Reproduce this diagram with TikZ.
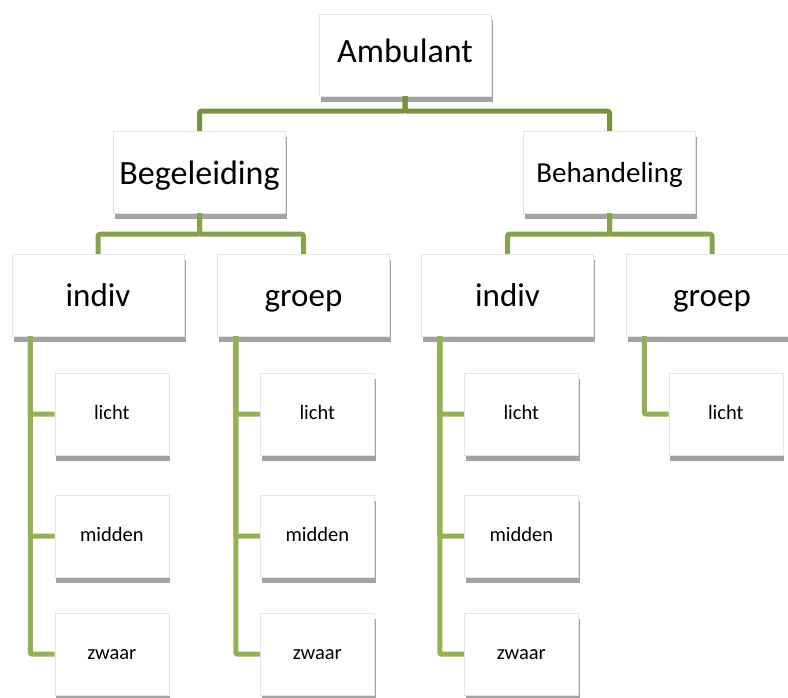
\documentclass[tikz,border=0pt]{standalone}
\usepackage{fontspec}
\setmainfont{Carlito}
\usepackage{xcolor}
\definecolor{darkolive}{RGB}{119,147,60}
\definecolor{midolive}{RGB}{133,163,72}
\definecolor{lightolive}{RGB}{146,178,82}
\usepackage{tikz}
\usetikzlibrary{shadows}
\newcommand{\widthbig}{172pt}
\newcommand{\widthsmall}{114pt}
\newcommand{\heightbox}{82pt}
\tikzset{
    common/.style={draw=black!10, fill=white, rectangle, inner sep=0pt, minimum height=\heightbox,
        drop shadow={shadow xshift=1.5pt, shadow yshift=-5.5pt, fill=black!36, opacity=1}},
    bigbox/.style={common, minimum width=\widthbig, font=\fontsize{33}{40}\selectfont,
        text height=23pt, text depth=0pt},
    smallbox/.style={common, minimum width=\widthsmall, font=\fontsize{20.5}{25}\selectfont,
        text height=14pt, text depth=4pt},
    link-top/.style={line width=5pt, darkolive, rounded corners=2pt},
    link-mid/.style={line width=5pt, midolive, rounded corners=2pt},
    link-leaf/.style={line width=5pt, lightolive, rounded corners=2pt}
}

\begin{document}
\begin{tikzpicture}[x=1pt, y=-1pt]
      \useasboundingbox (0,0) rectangle (788,697);

      \path
          node[bigbox, font=\fontsize{34}{40}\selectfont, text depth=9pt] (ambulant) at (405,55) {Ambulant}
          node[bigbox, font=\fontsize{34}{40}\selectfont, text height=25pt] (begeleiding) at (199.5,172) {Begeleiding}
          node[bigbox, font=\fontsize{29}{35}\selectfont, text height=21pt] (behandeling) at (609.5,172) {Behandeling};

      \path
          node[bigbox] (beg-indiv) at (98,295) {indiv}
          node[bigbox] (beg-groep) at (303.5,295) {groep}
          node[bigbox] (beh-indiv) at (507.5,295) {indiv}
          node[bigbox] (beh-groep) at (712,295) {groep};

      \path
          (beg-indiv.south west)
          +(100,78) node[smallbox] (beg-indiv-licht) {licht}
          +(100,200) node[smallbox] (beg-indiv-midden) {midden}
          +(100,318) node[smallbox] (beg-indiv-zwaar) {zwaar};

      \path
          (beg-groep.south west)
          +(100,78) node[smallbox] (beg-groep-licht) {licht}
          +(100,200) node[smallbox] (beg-groep-midden) {midden}
          +(100,318) node[smallbox] (beg-groep-zwaar) {zwaar};

      \path
          (beh-indiv.south west)
          +(100,78) node[smallbox] (beh-indiv-licht) {licht}
          +(100,200) node[smallbox] (beh-indiv-midden) {midden}
          +(100,318) node[smallbox] (beh-indiv-zwaar) {zwaar};

      \path
          (beh-groep.south west)
          +(100,78) node[smallbox] (beh-groep-licht) {licht};

      \draw[link-top] (ambulant.south) -- ++(0,15) -| (begeleiding.north);
      \draw[link-top] (ambulant.south) -- ++(0,15) -| (behandeling.north);

      \draw[link-mid] (begeleiding.south) -- ++(0,21) -| (beg-indiv.north);
      \draw[link-mid] (begeleiding.south) -- ++(0,21) -| (beg-groep.north);
      \draw[link-mid] (behandeling.south) -- ++(0,21) -| (beh-indiv.north);
      \draw[link-mid] (behandeling.south) -- ++(0,21) -| (beh-groep.north);

      \draw[link-leaf] ([xshift=18.5pt]beg-indiv.south west) |- (beg-indiv-licht.west);
      \draw[link-leaf] ([xshift=18.5pt]beg-indiv.south west) |- (beg-indiv-midden.west);
      \draw[link-leaf] ([xshift=18.5pt]beg-indiv.south west) |- (beg-indiv-zwaar.west);
      \draw[link-leaf] ([xshift=18.5pt]beg-groep.south west) |- (beg-groep-licht.west);
      \draw[link-leaf] ([xshift=18.5pt]beg-groep.south west) |- (beg-groep-midden.west);
      \draw[link-leaf] ([xshift=18.5pt]beg-groep.south west) |- (beg-groep-zwaar.west);
      \draw[link-leaf] ([xshift=18.5pt]beh-indiv.south west) |- (beh-indiv-licht.west);
      \draw[link-leaf] ([xshift=18.5pt]beh-indiv.south west) |- (beh-indiv-midden.west);
      \draw[link-leaf] ([xshift=18.5pt]beh-indiv.south west) |- (beh-indiv-zwaar.west);
      \draw[link-leaf] ([xshift=18.5pt]beh-groep.south west) |- (beh-groep-licht.west);
\end{tikzpicture}
\end{document}
